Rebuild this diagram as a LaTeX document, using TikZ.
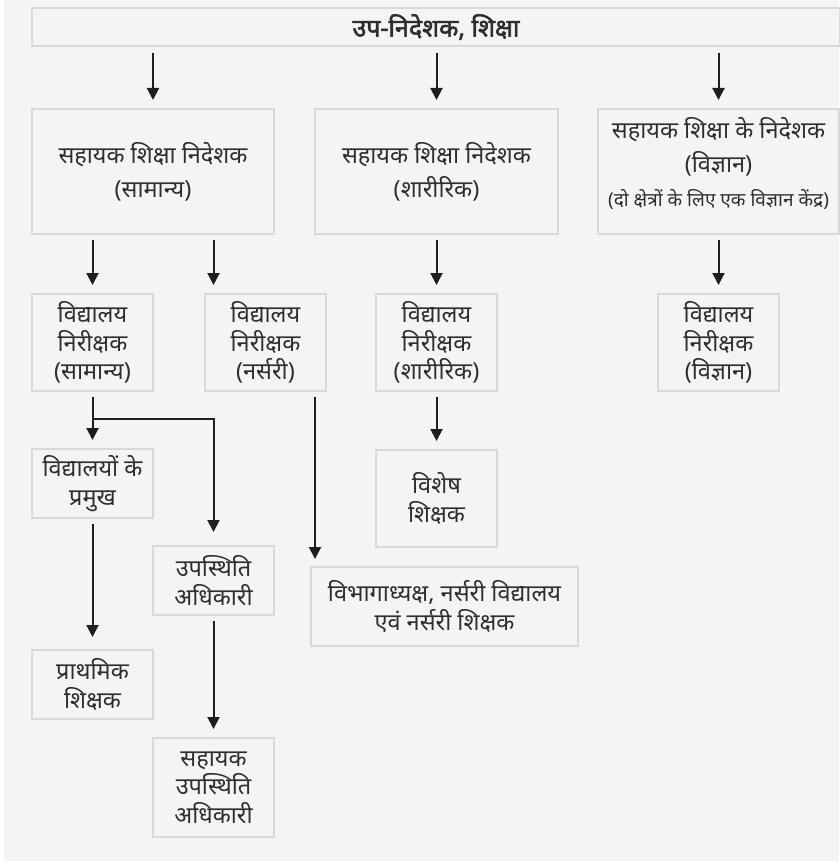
\documentclass[tikz,border=0pt]{standalone}
\usepackage{fontspec}
\setmainfont[Script=Devanagari]{Noto Sans}
\newfontfamily\headfont[Script=Devanagari,FakeBold=2.2]{Noto Sans}
\usetikzlibrary{arrows.meta,positioning}
\definecolor{pagebg}{HTML}{F3F4F4}
\definecolor{boxline}{HTML}{D9D9D9}
\definecolor{txtc}{HTML}{2E2E2E}
\definecolor{arrowc}{HTML}{1E1E1E}
\tikzset{
  box/.style={draw=boxline,line width=2pt,fill=pagebg,text=txtc,align=center,
    inner sep=0pt,font=\fontsize{23.5}{28.5}\selectfont},
  headbox/.style={box,font=\fontsize{23.5}{34}\selectfont},
  arr/.style={draw=arrowc,line width=2pt,-{Triangle[length=12pt,width=12pt]},
    shorten <=5pt,shorten >=8pt}
}
\begin{document}
\begin{tikzpicture}[x=1pt,y=-1pt]
  \useasboundingbox (0,0) rectangle (839,861);
  \fill[pagebg] (4,0) rectangle (839,861);
  % top
  \node[box,minimum width=808pt,minimum height=38pt,font=\headfont\fontsize{25}{28}\selectfont]
    (dd) at (436,27) {उप-निदेशक, शिक्षा};
  % assistant directors
  \node[headbox,minimum width=242pt,minimum height=125pt] (adGen) at (153,171.5)
    {सहायक शिक्षा निदेशक\\(सामान्य)};
  \node[headbox,minimum width=243pt,minimum height=125pt] (adPhy) at (436.5,171.5)
    {सहायक शिक्षा निदेशक\\(शारीरिक)};
  \node[headbox,minimum width=241pt,minimum height=125pt,text depth=20pt] (adSci) at (718.5,171.5)
    {सहायक शिक्षा के निदेशक\\(विज्ञान)\\{\fontsize{19}{24}\selectfont (दो क्षेत्रों के लिए एक विज्ञान केंद्र)}};
  % inspectors
  \node[box,minimum width=121pt,minimum height=97pt] (siGen) at (92.5,342.5)
    {विद्यालय\\निरीक्षक\\(सामान्य)};
  \node[box,minimum width=121pt,minimum height=97pt] (siNur) at (265.5,342.5)
    {विद्यालय\\निरीक्षक\\(नर्सरी)};
  \node[box,minimum width=121pt,minimum height=97pt] (siPhy) at (436.5,342.5)
    {विद्यालय\\निरीक्षक\\(शारीरिक)};
  \node[box,minimum width=121pt,minimum height=97pt] (siSci) at (718.5,342.5)
    {विद्यालय\\निरीक्षक\\(विज्ञान)};
  % lower levels
  \node[box,minimum width=121pt,minimum height=69pt] (heads) at (92.5,483.5)
    {विद्यालयों के\\प्रमुख};
  \node[box,minimum width=121pt,minimum height=69pt] (attOff) at (213.5,580.5)
    {उपस्थिति\\अधिकारी};
  \node[box,minimum width=121pt,minimum height=69pt] (primT) at (92.5,684.5)
    {प्राथमिक\\शिक्षक};
  \node[box,minimum width=121pt,minimum height=99pt] (asstAtt) at (213.5,787.5)
    {सहायक\\उपस्थिति\\अधिकारी};
  \node[box,minimum width=267pt,minimum height=79pt] (nurHead) at (444.5,606.5)
    {विभागाध्यक्ष, नर्सरी विद्यालय\\एवं नर्सरी शिक्षक};
  \node[box,minimum width=121pt,minimum height=97pt] (specT) at (436.5,498.5)
    {विशेष\\शिक्षक};
  % connectors
  \draw[arr,shorten <=6pt] (dd.south -| adGen.north) -- (adGen.north);
  \draw[arr,shorten <=6pt] (dd.south -| adPhy.north) -- (adPhy.north);
  \draw[arr,shorten <=6pt] (dd.south -| adSci.north) -- (adSci.north);
  \draw[arr] (siGen.north |- adGen.south) -- (siGen.north);
  \draw[arr] (attOff.north |- adGen.south) -- (attOff.north |- siNur.north);
  \draw[arr] (adPhy.south) -- (siPhy.north);
  \draw[arr] (adSci.south) -- (siSci.north);
  \draw[arr] (siGen.south) -- (heads.north);
  \coordinate (fork) at (92.5,419);
  \draw[arr,shorten <=0pt,shorten >=13pt] (fork) -| (attOff.north);
  \draw[arr,shorten >=12pt] (heads.south) -- (primT.north);
  \draw[arr] (attOff.south) -- (asstAtt.north);
  \draw[arr,shorten >=7pt] ([xshift=-12pt]siNur.south east)
    -- ([xshift=-12pt]siNur.south east |- nurHead.north);
  \draw[arr] (siPhy.south) -- (specT.north);
\end{tikzpicture}
\end{document}
